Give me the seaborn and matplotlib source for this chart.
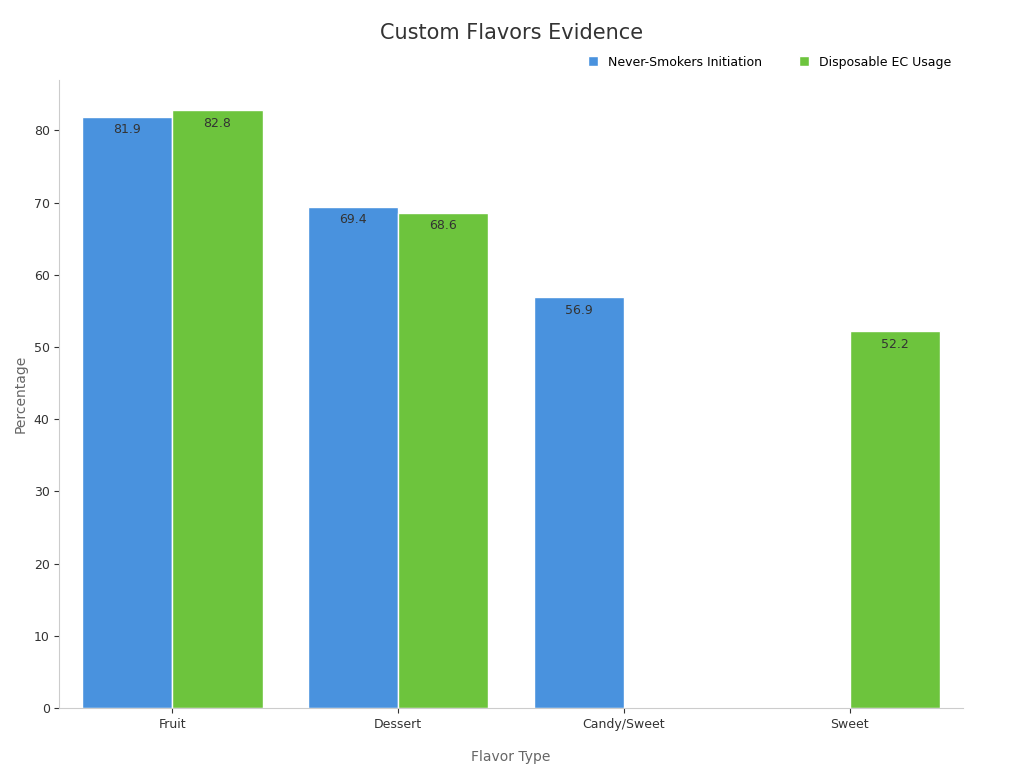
import pandas as pd
import seaborn as sns
import matplotlib.pyplot as plt

flavors = ['Fruit', 'Dessert', 'Candy/Sweet', 'Sweet']
never_smokers = [81.9, 69.4, 56.9, None]
disposable_ec = [82.8, 68.6, None, 52.2]
series = ['Never-Smokers Initiation', 'Disposable EC Usage']
colors = ['#3092F7', '#66DB26']

rows = []
for f, a, b in zip(flavors, never_smokers, disposable_ec):
    rows.append({'flavor': f, 'series': series[0], 'value': a})
    rows.append({'flavor': f, 'series': series[1], 'value': b})
df = pd.DataFrame(rows)

fig, ax = plt.subplots(figsize=(10.24, 7.68), dpi=100)
fig.subplots_adjust(left=0.058, right=0.94, top=0.896, bottom=0.078)
sns.barplot(data=df, x='flavor', y='value', hue='series', palette=colors,
            width=0.8, edgecolor='white', linewidth=1, ax=ax)

for cont in ax.containers:
    labels = ['' if pd.isna(v) else f'{v:.1f}' for v in cont.datavalues]
    ax.bar_label(cont, labels=labels, padding=-14, fontsize=9, color='#333333')

ax.set_ylim(0, 87)
ax.set_xlim(-0.5, 3.5)
ax.set_xlabel('Flavor Type', fontsize=10, color='#666666', labelpad=14)
ax.set_ylabel('Percentage', fontsize=10, color='#666666')
ax.tick_params(labelsize=9, colors='#333333')
for s in ['top', 'right']:
    ax.spines[s].set_visible(False)
for s in ['left', 'bottom']:
    ax.spines[s].set_color('#CCCCCC')
fig.suptitle('Custom Flavors Evidence', fontsize=15, color='#333333', x=0.5, y=0.97)
ax.legend(loc='lower right', bbox_to_anchor=(1.0, 1.0), ncol=2, frameon=False,
          fontsize=9, handlelength=0.8, handleheight=0.8, columnspacing=3)
fig.savefig('out.png')
